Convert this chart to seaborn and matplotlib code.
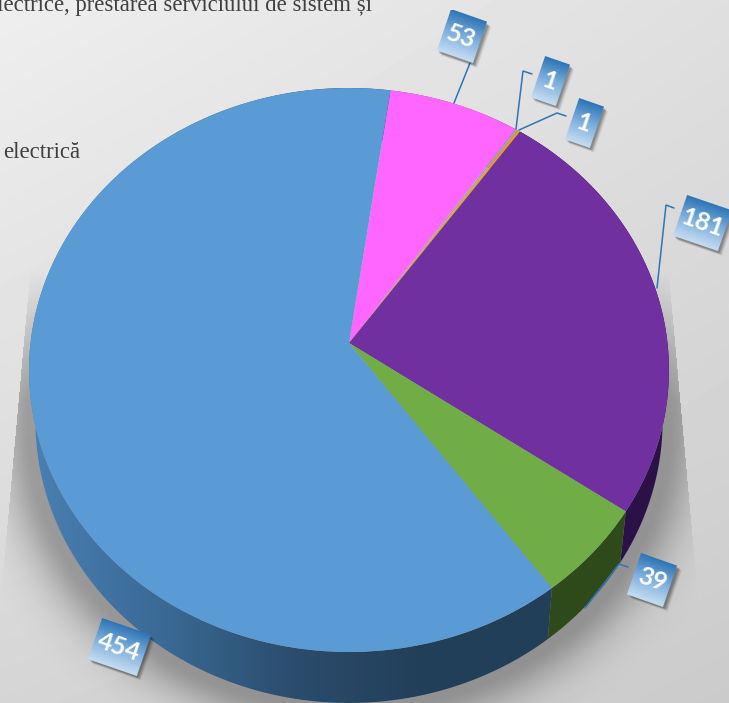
import numpy as np
import matplotlib
matplotlib.use("Agg")
import matplotlib.pyplot as plt
import seaborn as sns
from matplotlib.colors import LinearSegmentedColormap
from matplotlib.patches import Polygon, Rectangle
from matplotlib.transforms import Affine2D, Transform

# ---- data ----
values = [53, 1, 1, 181, 39, 454]
value_labels = ["53", "1", "1", "181", "39", "454"]
top_colors = ["#FF66FF", "#A5A5A5", "#ED9F1E", "#7030A0", "#70AD47", "#5B9BD5"]
side_colors = ["#A03FA0", "#666666", "#8F5F10", "#2B1147", "#2F4A1A", "#223F58"]
caption_lines = ["electrice, prestarea serviciului de sistem și", "electrică"]

# ---- layout ----
W, H = 729, 703
CX, CY = 349, 343          # apex of the pie
K, A, C = 0.0957, 279.4, 318.5   # perspective of the tilted disc
DEPTH, SHRINK = 51, 0.98
box_layout = [(461.5, 36.5, 38), (550, 81, 26), (584, 123, 26),
              (702, 223, 47), (652, 580, 38), (119, 647, 51)]
leaders = [[(454, 103), (470, 63)],
           [(516, 129), (523, 71), (532, 74)],
           [(519, 130), (557, 113), (566, 116)],
           [(657, 288), (666, 205), (674, 208)],
           [(585, 608), (619, 564), (628, 567)]]

sns.set_theme(style="white")
palette = sns.color_palette(top_colors)


class Tilt(Transform):
    input_dims = output_dims = 2

    def transform_non_affine(self, v):
        v = np.asarray(v, float)
        w = 1 + K * v[:, 1]
        return np.column_stack((CX + C * v[:, 0] / w, CY - A * v[:, 1] / w))


tilt = Tilt()
fig = plt.figure(figsize=(W / 100, H / 100), dpi=100)
ax = fig.add_axes([0, 0, 1, 1])

wedges, _ = ax.pie(values, colors=palette, startangle=81.8, counterclock=False,
                   wedgeprops=dict(linewidth=0))
for w in wedges:
    w.set_transform(tilt + ax.transData)
    w.set_zorder(3)

# background
yy, xx = np.mgrid[0:H, 0:W]
u, v = xx / W, yy / H
bg = (0.935 * (1 - u) * (1 - v) + 0.875 * u * (1 - v)
      + 0.835 * (1 - u) * v + 0.795 * u * v)
ax.imshow(bg, cmap="gray", vmin=0, vmax=1, extent=[0, W, H, 0], aspect="auto", zorder=0)

# soft shadow behind the disc
cy_s = np.clip(yy, 370, 424)
r = np.hypot((xx - CX) / 320, (yy - cy_s) / 284)
d = np.clip((r - 1) * 300, 0, None)
fan = np.abs(xx - CX) < 320 + np.clip(yy - 280, 0, None) * 0.09
ramp = np.clip((yy - 270) / 130, 0, 1)
shade = 0.30 * np.exp(-(d / 30) ** 1.6) * fan * ramp
shadow = np.zeros((H, W, 4))
shadow[..., 3] = shade
ax.imshow(shadow, extent=[0, W, H, 0], aspect="auto", zorder=1)

# rim of the disc
rim_cmap = LinearSegmentedColormap.from_list(
    "rim", ["#4A80B3", "#3A6A95", "#2B4C6D", "#223F58", "#223F58"])
for w, col in zip(wedges, side_colors):
    th = np.radians(np.linspace(w.theta1, w.theta2, 200))
    top = tilt.transform_non_affine(np.column_stack((np.cos(th), np.sin(th))))
    low = np.column_stack((CX + (top[:, 0] - CX) * SHRINK, top[:, 1] + DEPTH))
    poly = Polygon(np.vstack((top, low[::-1])), closed=True, fc=col, ec="none", zorder=2)
    ax.add_patch(poly)
    if col == side_colors[-1]:
        poly.set_alpha(0)
        im = ax.imshow(np.linspace(0, 1, 256)[None, :], cmap=rim_cmap,
                       extent=[29, 560, H + 10, 0], aspect="auto", zorder=2)
        im.set_clip_path(poly)

# leader lines
for pts in leaders:
    px, py = zip(*pts)
    ax.plot(px, py, color="#2E75B6", lw=1.1, zorder=4, solid_joinstyle="miter")

# value boxes
grad = LinearSegmentedColormap.from_list("box", ["#2E75B6", "#7FB0DE", "#C5DCF2"])
BOX_H, ROT = 43, 19
for label, (bx, by, bw) in zip(value_labels, box_layout):
    rot = Affine2D().rotate_deg(ROT).translate(bx, by) + ax.transData
    for off, al in ((7, 0.05), (6, 0.07), (5, 0.09), (4, 0.11), (3, 0.13)):
        sh = Affine2D().rotate_deg(ROT).translate(bx + off * 0.7, by + off * 0.7) + ax.transData
        ax.add_patch(Rectangle((-bw / 2, -BOX_H / 2), bw, BOX_H, fc="black", ec="none",
                               alpha=al, transform=sh, zorder=4.5))
    frame = Rectangle((-bw / 2, -BOX_H / 2), bw, BOX_H, fc="none", ec="none",
                      transform=rot, zorder=5)
    ax.add_patch(frame)
    im = ax.imshow(np.linspace(0, 1, 64)[:, None], cmap=grad, aspect="auto",
                   extent=[-bw / 2, bw / 2, BOX_H / 2, -BOX_H / 2],
                   transform=rot, zorder=5)
    im.set_clip_path(frame)
    ax.text(bx, by, label, color="white", fontsize=18, fontweight="bold",
            family="Lato", rotation=-ROT, rotation_mode="anchor",
            ha="center", va="center", zorder=6)

# clipped caption text
ax.text(372, 11, caption_lines[0], family="Liberation Serif", fontsize=16.4,
        color="#404040", ha="right", va="baseline", zorder=6)
ax.text(80, 158, caption_lines[1], family="Liberation Serif", fontsize=16.4,
        color="#404040", ha="right", va="baseline", zorder=6)

ax.set_aspect("auto")
ax.set_xlim(0, W)
ax.set_ylim(H, 0)
ax.axis("off")
fig.savefig("out.png", dpi=100)
